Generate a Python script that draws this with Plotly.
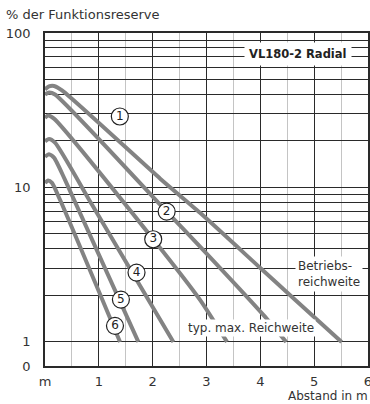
import plotly.graph_objects as go

# ---- data ----
dist_1 = [0.0, 0.074, 0.167, 0.316, 2.14, 2.88, 4.00, 4.65, 5.51]
res_1 = [43.1, 45.1, 45.4, 42.5, 11.4, 6.85, 3.01, 1.87, 1.0]

dist_2 = [0.0, 0.074, 0.186, 2.26, 2.88, 4.06, 4.48]
res_2 = [40.0, 41.2, 40.0, 6.98, 4.14, 1.49, 1.0]

dist_3 = [0.0, 0.056, 0.167, 2.01, 2.88, 3.38]
res_3 = [28.2, 29.2, 27.9, 4.62, 1.87, 1.0]

dist_4 = [0.0, 0.074, 0.186, 0.874, 2.385]
res_4 = [19.9, 20.6, 19.5, 7.72, 1.0]

dist_5 = [0.0, 0.074, 0.167, 0.372, 1.734]
res_5 = [15.8, 16.4, 15.6, 11.2, 1.0]

dist_6 = [0.0, 0.056, 0.130, 0.279, 1.394]
res_6 = [10.7, 11.1, 10.7, 8.32, 1.0]

curve_labels = ["1", "2", "3", "4", "5", "6"]
label_x = [1.39, 2.26, 2.01, 1.70, 1.41, 1.30]
label_y = [28.8, 6.98, 4.62, 2.81, 1.88, 1.27]

x_tickvals = [0, 1, 2, 3, 4, 5, 6]
x_ticktext = ["m", "1", "2", "3", "4", "5", "6"]
y_tickvals = [0.698, 1, 10, 100]
y_ticktext = ["0", "1", "10", "100"]
y_minor_vals = [2, 3, 4, 5, 6, 7, 8, 9, 20, 30, 40, 50, 60, 70, 80, 90]

FONT = "DejaVu Sans"
CURVE_COLOR = "#838383"
GRID_DARK = "#2a2a2a"

fig = go.Figure()
for xs, ys in [(dist_1, res_1), (dist_2, res_2), (dist_3, res_3),
               (dist_4, res_4), (dist_5, res_5), (dist_6, res_6)]:
    fig.add_trace(go.Scatter(
        x=xs, y=ys, mode="lines",
        line=dict(color=CURVE_COLOR, width=4, shape="spline", smoothing=0.6),
        hoverinfo="skip", showlegend=False))

fig.add_trace(go.Scatter(
    x=label_x, y=label_y, mode="markers+text", text=curve_labels,
    textposition="middle center",
    textfont=dict(family=FONT, size=12, color="#222"),
    marker=dict(size=17, color="white", line=dict(color="#222", width=1.2)),
    hoverinfo="skip", showlegend=False, cliponaxis=False))

fig.update_xaxes(
    range=[0, 6], tickvals=x_tickvals, ticktext=x_ticktext,
    showgrid=True, gridcolor=GRID_DARK, gridwidth=1,
    minor=dict(dtick=0.5, showgrid=True, gridcolor="#c4c4c4", gridwidth=1),
    showline=True, mirror=True, linecolor=GRID_DARK, linewidth=1.5,
    ticks="", ticklabelstandoff=3, zeroline=False, automargin=False,
    ticklabeloverflow="allow",
    tickfont=dict(family=FONT, size=13, color="#333"))

fig.update_yaxes(
    type="log", range=[-0.156, 2],
    tickvals=y_tickvals, ticktext=y_ticktext,
    showgrid=True, gridcolor=GRID_DARK, gridwidth=1,
    minor=dict(tickvals=y_minor_vals, showgrid=True, gridcolor=GRID_DARK, gridwidth=1),
    showline=True, mirror=True, linecolor=GRID_DARK, linewidth=1.5,
    ticks="", ticklabelstandoff=10, zeroline=False, automargin=False,
    tickfont=dict(family=FONT, size=13, color="#333"))

fig.add_annotation(x=4.70, y=1.862, yref="y", xref="x",
                   text="<b>VL180-2 Radial</b>", showarrow=False,
                   font=dict(family=FONT, size=11.5, color="#222"),
                   bgcolor="white", borderpad=4)
fig.add_annotation(x=3.83, y=0.091, text="typ. max. Reichweite", showarrow=False,
                   font=dict(family=FONT, size=12, color="#333"),
                   bgcolor="white", borderpad=1)
fig.add_annotation(x=4.64, y=0.44, xanchor="left", align="left",
                   text="Betriebs-<br>reichweite", showarrow=False,
                   font=dict(family=FONT, size=12, color="#333"),
                   bgcolor="white", borderpad=2)
fig.add_annotation(xref="paper", yref="paper", x=-0.127, y=1.055,
                   xanchor="left", yanchor="middle",
                   text="% der Funktionsreserve", showarrow=False,
                   font=dict(family=FONT, size=13, color="#333"))
fig.add_annotation(xref="paper", yref="paper", x=0.745, y=-0.089,
                   xanchor="left", yanchor="middle",
                   text="Abstand in m", showarrow=False,
                   font=dict(family=FONT, size=12, color="#333"))

fig.update_layout(
    width=370, height=404, autosize=False,
    margin=dict(l=45, r=2, t=33, b=38),
    paper_bgcolor="white", plot_bgcolor="white",
    showlegend=False)

fig.write_html("out.html", config={"displayModeBar": False},
               post_script="document.body.style.margin='0';document.body.style.padding='0';document.body.style.overflow='hidden';")
